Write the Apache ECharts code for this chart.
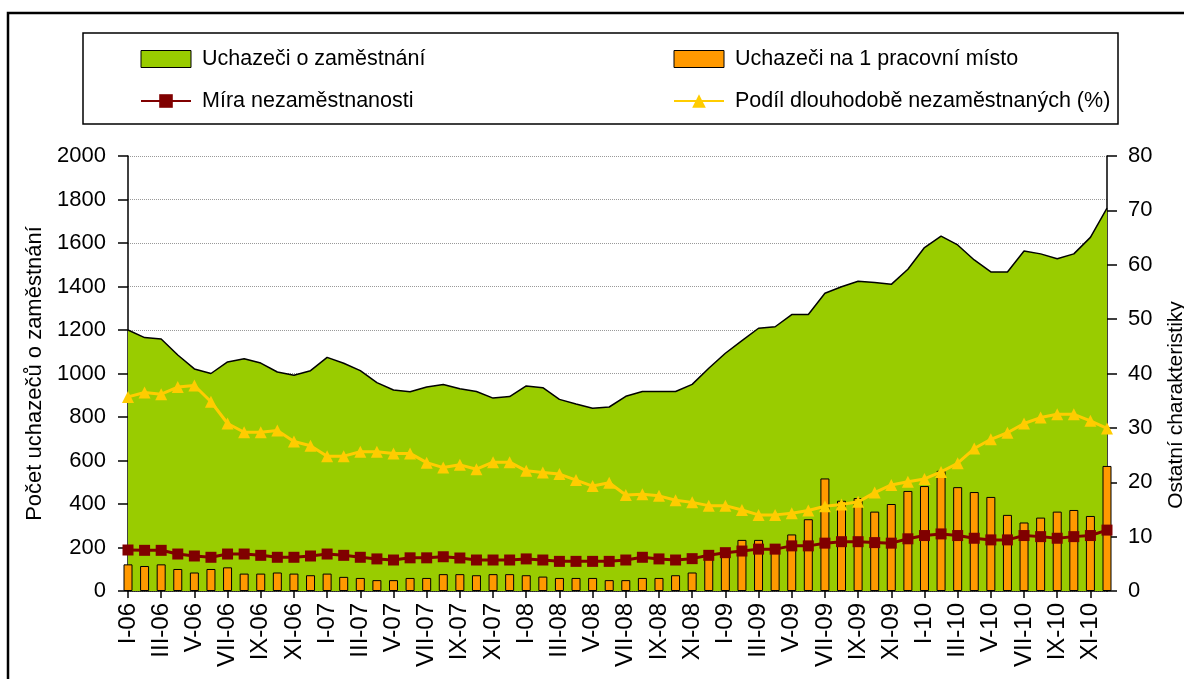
<!DOCTYPE html>
<html>
<head>
<meta charset="utf-8">
<script src="https://cdn.jsdelivr.net/npm/echarts@6/dist/echarts.min.js"></script>
<style>
   html, body { margin: 0; padding: 0; background: #fff; }
   #chart { width: 1184px; height: 679px; }
</style>
</head>
<body>
<div id="chart"></div>
<script>
var months = [
   'I-06','II-06','III-06','IV-06','V-06','VI-06','VII-06','VIII-06','IX-06','X-06','XI-06','XII-06',
   'I-07','II-07','III-07','IV-07','V-07','VI-07','VII-07','VIII-07','IX-07','X-07','XI-07','XII-07',
   'I-08','II-08','III-08','IV-08','V-08','VI-08','VII-08','VIII-08','IX-08','X-08','XI-08','XII-08',
   'I-09','II-09','III-09','IV-09','V-09','VI-09','VII-09','VIII-09','IX-09','X-09','XI-09','XII-09',
   'I-10','II-10','III-10','IV-10','V-10','VI-10','VII-10','VIII-10','IX-10','X-10','XI-10','XII-10'
];

// Uchazeči o zaměstnání (levá osa)
var applicants = [
   1200, 1165, 1159, 1085, 1021, 1000, 1053, 1068, 1048, 1007,
   992, 1013, 1074, 1047, 1013, 958, 924, 916, 938, 949,
   930, 917, 887, 894, 943, 935, 881, 860, 840, 846,
   895, 917, 917, 917, 950, 1024, 1093, 1151, 1208, 1215,
   1271, 1271, 1369, 1399, 1424, 1418, 1410, 1479, 1579, 1632,
   1591, 1522, 1467, 1467, 1563, 1550, 1528, 1550, 1626, 1760
];

// Uchazeči na 1 pracovní místo (pravá osa)
var perVacancy = [
   4.9, 4.6, 4.9, 4.05, 3.4, 4.05, 4.35, 3.2, 3.2, 3.4,
   3.2, 2.9, 3.2, 2.6, 2.4, 2.0, 2.0, 2.4, 2.4, 3.1,
   3.1, 2.9, 3.1, 3.1, 2.9, 2.65, 2.4, 2.4, 2.4, 2.0,
   2.0, 2.4, 2.4, 2.9, 3.4, 6.3, 7.85, 9.4, 9.4, 8.3,
   10.4, 13.2, 20.7, 16.6, 17.1, 14.6, 16.0, 18.4, 19.3, 22.1,
   19.1, 18.2, 17.3, 14.0, 12.6, 13.5, 14.6, 14.9, 13.8, 23.0
];

// Míra nezaměstnanosti (pravá osa)
var unemploymentRate = [
   7.54, 7.48, 7.48, 6.8, 6.44, 6.2, 6.8, 6.8, 6.56, 6.2,
   6.2, 6.44, 6.8, 6.56, 6.2, 5.9, 5.7, 6.1, 6.1, 6.3,
   6.07, 5.7, 5.7, 5.7, 5.9, 5.7, 5.45, 5.45, 5.45, 5.45,
   5.7, 6.2, 5.9, 5.7, 5.95, 6.56, 7.05, 7.35, 7.7, 7.7,
   8.3, 8.3, 8.8, 9.07, 9.07, 8.9, 8.8, 9.6, 10.2, 10.5,
   10.2, 9.7, 9.4, 9.4, 10.2, 10.0, 9.7, 10.0, 10.2, 11.2
];

// Podíl dlouhodobě nezaměstnaných (%) (pravá osa)
var longTermShare = [
   35.7, 36.5, 36.2, 37.5, 37.8, 34.8, 30.8, 29.2, 29.2, 29.5,
   27.5, 26.7, 24.8, 24.8, 25.6, 25.6, 25.3, 25.3, 23.6, 22.7,
   23.2, 22.4, 23.7, 23.7, 22.1, 21.8, 21.5, 20.4, 19.3, 19.9,
   17.65, 17.8, 17.5, 16.7, 16.3, 15.7, 15.7, 14.9, 14.0, 14.0,
   14.3, 14.8, 15.6, 15.9, 16.4, 18.1, 19.5, 20.1, 20.6, 21.9,
   23.5, 26.2, 27.9, 29.1, 30.8, 31.9, 32.5, 32.5, 31.3, 29.9
];

var font = "'Liberation Sans', Arial, sans-serif";

var legendText = {
   fontFamily: font,
   fontSize: 21.5,
   color: '#000',
   padding: [0, 0, 0, 6]
};

var chart = echarts.init(document.getElementById('chart'), null, { renderer: 'canvas' });

var option = {
   animation: false,
   backgroundColor: '#fff',
   grid: {
      left: 128,
      right: 77,
      top: 156,
      bottom: 88
   },
   legend: [{
      orient: 'vertical',
      left: 135,
      top: 43,
      itemWidth: 50,
      itemHeight: 17,
      itemGap: 20,
      textStyle: legendText,
      data: [
         { name: 'Uchazeči o zaměstnání', icon: 'rect', itemStyle: { color: '#99CC00', borderColor: '#000', borderWidth: 1 } },
         { name: 'Míra nezaměstnanosti' }
      ]
   }, {
      orient: 'vertical',
      left: 668,
      top: 43,
      itemWidth: 50,
      itemHeight: 17,
      itemGap: 20,
      textStyle: legendText,
      data: [
         { name: 'Uchazeči na 1 pracovní místo', icon: 'rect', itemStyle: { color: '#FF9900', borderColor: '#000', borderWidth: 1 } },
         { name: 'Podíl dlouhodobě nezaměstnaných (%)' }
      ]
   }],
   xAxis: {
      type: 'category',
      data: months,
      boundaryGap: false,
      axisLine: { lineStyle: { color: '#000', width: 1.5 } },
      axisTick: { interval: 1, length: 7, lineStyle: { color: '#000', width: 1.5 } },
      axisLabel: {
         interval: 1,
         rotate: 90,
         margin: 12,
         fontFamily: font,
         fontSize: 24,
         color: '#000'
      },
      splitLine: { show: false }
   },
   yAxis: [{
      type: 'value',
      min: 0,
      max: 2000,
      interval: 200,
      name: 'Počet uchazečů o zaměstnání',
      nameLocation: 'middle',
      nameGap: 72,
      nameTextStyle: { fontFamily: font, fontSize: 22, color: '#000' },
      axisLine: { show: true, lineStyle: { color: '#000', width: 1.5 } },
      axisTick: { show: true, length: 10, lineStyle: { color: '#000', width: 1.5 } },
      axisLabel: {
         margin: 22,
         fontFamily: font,
         fontSize: 22,
         color: '#000',
         formatter: function(v) { return String(v); }
      },
      splitLine: { show: true, lineStyle: { color: '#999', type: 'dotted', width: 1 } }
   }, {
      type: 'value',
      position: 'right',
      min: 0,
      max: 80,
      interval: 10,
      axisLine: { show: true, lineStyle: { color: '#000', width: 1.5 } },
      axisTick: { show: true, length: 10, lineStyle: { color: '#000', width: 1.5 } },
      axisLabel: { margin: 21, fontFamily: font, fontSize: 22, color: '#000' },
      splitLine: { show: false }
   }],
   series: [{
      name: 'Uchazeči o zaměstnání',
      type: 'line',
      data: applicants,
      yAxisIndex: 0,
      symbol: 'none',
      z: 1,
      lineStyle: { color: '#000', width: 1.5 },
      itemStyle: { color: '#99CC00' },
      areaStyle: { color: '#99CC00', opacity: 1 }
   }, {
      name: 'Uchazeči na 1 pracovní místo',
      type: 'bar',
      data: perVacancy,
      yAxisIndex: 1,
      barWidth: 9,
      clip: true,
      z: 2,
      itemStyle: { color: '#FF9900', borderColor: '#000', borderWidth: 1 }
   }, {
      name: 'Míra nezaměstnanosti',
      type: 'line',
      data: unemploymentRate,
      yAxisIndex: 1,
      symbol: 'rect',
      symbolSize: 11,
      showAllSymbol: true,
      z: 3,
      itemStyle: { color: '#800000' },
      lineStyle: { color: '#800000', width: 3 }
   }, {
      name: 'Podíl dlouhodobě nezaměstnaných (%)',
      type: 'line',
      data: longTermShare,
      yAxisIndex: 1,
      symbol: 'triangle',
      symbolSize: 12,
      showAllSymbol: true,
      z: 4,
      itemStyle: { color: '#FFCC00' },
      lineStyle: { color: '#FFCC00', width: 3 }
   }],
   graphic: [{
      type: 'polyline',
      silent: true,
      shape: { points: [[8, 679], [8, 13], [1184, 13]] },
      style: { stroke: '#000', lineWidth: 2.5, fill: null }
   }, {
      type: 'rect',
      silent: true,
      shape: { x: 83, y: 33, width: 1035, height: 91 },
      style: { stroke: '#000', lineWidth: 1.5, fill: null }
   }, {
      type: 'text',
      silent: true,
      x: 1176,
      y: 405,
      rotation: Math.PI / 2,
      style: {
         text: 'Ostatní charakteristiky',
         fontFamily: font,
         fontSize: 21,
         fill: '#000',
         align: 'center',
         verticalAlign: 'middle'
      }
   }]
};

chart.setOption(option);
</script>
</body>
</html>
